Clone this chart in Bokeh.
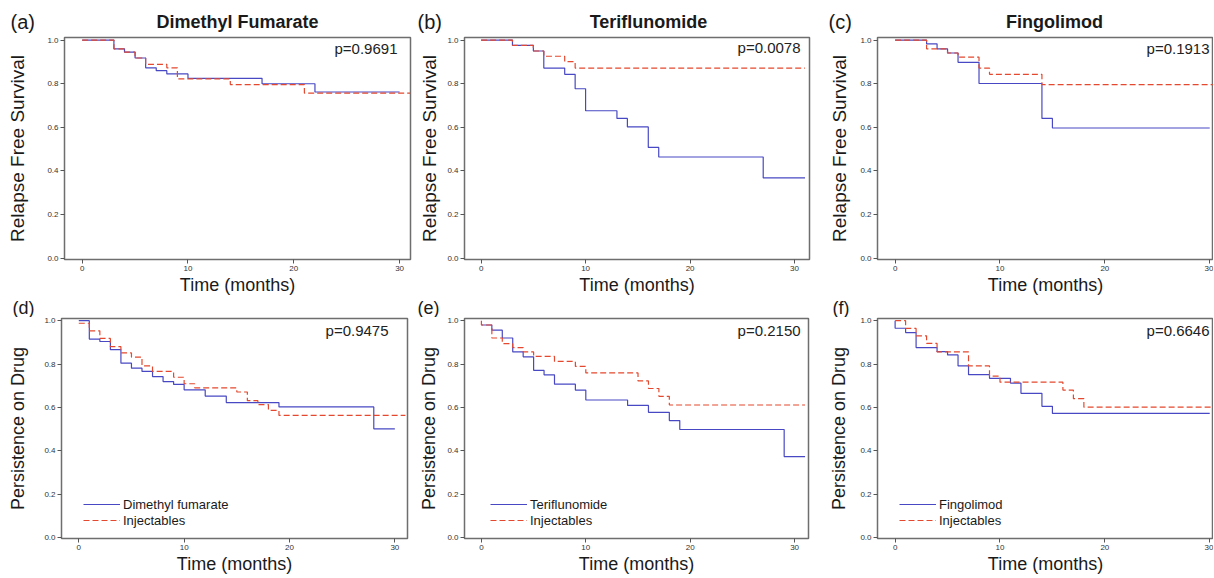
from bokeh.plotting import figure
from bokeh.layouts import column, row
from bokeh.models import Label, Legend, LegendItem, FixedTicker, PrintfTickFormatter, Range1d
from bokeh.core.properties import value
from bokeh.embed import file_html
from bokeh.resources import INLINE

# ---------------- data ----------------
# (a) Relapse free survival, Dimethyl fumarate vs injectables
a_dmf_t = [0, 3, 4, 5, 6, 7, 8, 10, 17, 22, 30]
a_dmf_s = [1.0, 0.96, 0.945, 0.918, 0.873, 0.86, 0.845, 0.825, 0.80, 0.762, 0.762]
a_inj_t = [0, 3, 4, 5, 6, 8, 9, 14, 21, 31]
a_inj_s = [1.0, 0.96, 0.945, 0.918, 0.889, 0.873, 0.822, 0.796, 0.757, 0.757]
# (b) Teriflunomide
b_ter_t = [0, 3, 5, 6, 8, 9, 10, 13, 14, 16, 17, 27, 31]
b_ter_s = [1.0, 0.976, 0.95, 0.872, 0.843, 0.777, 0.676, 0.641, 0.602, 0.508, 0.464, 0.368, 0.368]
b_inj_t = [0, 3, 5, 6, 8, 9, 31]
b_inj_s = [1.0, 0.976, 0.95, 0.926, 0.901, 0.872, 0.872]
# (c) Fingolimod
c_fin_t = [0, 3, 4, 5, 6, 8, 14, 15, 30]
c_fin_s = [1.0, 0.983, 0.96, 0.941, 0.898, 0.801, 0.641, 0.597, 0.597]
c_inj_t = [0, 3, 5, 6, 8, 9, 14, 31]
c_inj_s = [1.0, 0.96, 0.941, 0.922, 0.872, 0.843, 0.796, 0.796]
# (d) Persistence on drug, Dimethyl fumarate
d_dmf_t = [0, 1, 2, 3, 4, 5, 6, 7, 8, 9, 10, 12, 14, 19, 28, 30]
d_dmf_s = [1.0, 0.915, 0.904, 0.866, 0.804, 0.781, 0.766, 0.742, 0.719, 0.706, 0.681, 0.652, 0.622, 0.602, 0.501, 0.501]
d_inj_t = [0, 1, 2, 3, 4, 5, 6, 7, 9, 10, 11, 15, 16, 17, 18, 19, 31]
d_inj_s = [0.988, 0.953, 0.918, 0.880, 0.851, 0.832, 0.791, 0.766, 0.739, 0.709, 0.690, 0.671, 0.631, 0.613, 0.586, 0.563, 0.563]
# (e) Teriflunomide
e_ter_t = [0, 1, 2, 3, 4, 5, 6, 7, 9, 10, 14, 16, 18, 19, 29, 31]
e_ter_s = [0.98, 0.956, 0.920, 0.856, 0.833, 0.771, 0.750, 0.707, 0.680, 0.634, 0.609, 0.577, 0.539, 0.498, 0.373, 0.373]
e_inj_t = [0, 0, 1, 2, 3, 4, 5, 7, 9, 10, 15, 16, 17, 18, 31]
e_inj_s = [1.0, 0.98, 0.920, 0.894, 0.876, 0.856, 0.835, 0.812, 0.789, 0.759, 0.722, 0.687, 0.651, 0.611, 0.611]
# (f) Fingolimod
f_fin_t = [0, 0, 1, 2, 4, 5, 6, 7, 9, 11, 12, 14, 15, 30]
f_fin_s = [1.0, 0.965, 0.945, 0.876, 0.857, 0.842, 0.791, 0.751, 0.734, 0.712, 0.665, 0.605, 0.572, 0.572]
f_inj_t = [0, 1, 2, 3, 4, 7, 9, 10, 16, 17, 18, 31]
f_inj_s = [1.0, 0.964, 0.930, 0.895, 0.856, 0.791, 0.744, 0.716, 0.680, 0.640, 0.601, 0.601]

titles = ["Dimethyl Fumarate", "Teriflunomide", "Fingolimod"]
tags_top = ["(a)", "(b)", "(c)"]
tags_bottom = ["(d)", "(e)", "(f)"]
pvalues = ["p=0.9691", "p=0.0078", "p=0.1913", "p=0.9475", "p=0.2150", "p=0.6646"]
drug_names = ["Dimethyl fumarate", "Teriflunomide", "Fingolimod"]
comparator = "Injectables"
x_ticks = [0, 10, 20, 30]
y_ticks = [0.0, 0.2, 0.4, 0.6, 0.8, 1.0]
y_label_top = "Relapse Free Survival"
y_label_bottom = "Persistence on Drug"
x_label = "Time (months)"

FONT = "Liberation Sans"
BLUE = "#4848c4"
RED = "#e4492f"
TXT = "#1a1a1a"
W = 1213


def header(height, tags, tag_x, tag_y, tag_size, names=None, name_x=None):
    h = figure(width=W, height=height, x_range=Range1d(0, W), y_range=Range1d(0, height),
               output_backend="svg", toolbar_location=None, title=None,
               x_axis_location=None, y_axis_location=None,
               min_border_left=0, min_border_right=0, min_border_top=0, min_border_bottom=0)
    h.outline_line_color = None
    h.grid.visible = False
    h.background_fill_color = "white"
    h.border_fill_color = "white"
    h.text(x=tag_x, y=[tag_y] * len(tags), text=tags, text_font=value(FONT),
           text_font_size=tag_size, text_color=TXT, text_align="left", text_baseline="middle")
    if names is not None:
        h.text(x=name_x, y=[tag_y] * len(names), text=names, text_font=value(FONT),
               text_font_size="18px", text_font_style="bold", text_color=TXT,
               text_align="center", text_baseline="middle")
    return h


def panel(width, height, bl, br, bt, bb, xr, yr, ylab, ylab_size, ylab_standoff,
          t1, s1, t2, s2, pval, pval_x, pval_y, legend=None):
    p = figure(width=width, height=height, x_range=Range1d(*xr), y_range=Range1d(*yr),
               output_backend="svg", toolbar_location=None, title=None,
               min_border_left=bl, min_border_right=br, min_border_top=bt, min_border_bottom=bb)
    p.background_fill_color = "white"
    p.border_fill_color = "white"
    p.outline_line_color = "#6e6e6e"
    p.outline_line_width = 1.5
    p.grid.visible = False

    for ax in (p.xaxis[0], p.yaxis[0]):
        ax.axis_line_color = None
        ax.major_tick_line_color = "#555555"
        ax.major_tick_out = 4
        ax.major_tick_in = 0
        ax.minor_tick_line_color = None
        ax.major_label_text_font = FONT
        ax.major_label_text_font_size = "8px"
        ax.major_label_text_color = "#333333"
        ax.major_label_standoff = 2
        ax.axis_label_text_font = FONT
        ax.axis_label_text_font_style = "normal"
        ax.axis_label_text_color = TXT
    p.xaxis.ticker = FixedTicker(ticks=x_ticks)
    p.yaxis.ticker = FixedTicker(ticks=y_ticks)
    p.yaxis.formatter = PrintfTickFormatter(format="%.1f")
    p.xaxis.axis_label = x_label
    p.xaxis.axis_label_text_font_size = "18px"
    p.xaxis.axis_label_standoff = 1
    p.yaxis.axis_label = ylab
    p.yaxis.axis_label_text_font_size = ylab_size
    p.yaxis.axis_label_standoff = ylab_standoff

    r1 = p.step(t1, s1, mode="after", line_color=BLUE, line_width=1.2)
    r2 = p.step(t2, s2, mode="after", line_color=RED, line_width=1.2, line_dash="6 3")

    p.add_layout(Label(x=pval_x, y=pval_y, text=pval, text_font=FONT, text_font_size="15px",
                       text_color="#222222", text_align="right", text_baseline="middle"))
    if legend is not None:
        name, loc = legend
        lg = Legend(items=[LegendItem(label=name, renderers=[r1]),
                           LegendItem(label=comparator, renderers=[r2])],
                    location=loc, padding=0, margin=0, spacing=0,
                    glyph_width=37, glyph_height=16, label_height=16, label_standoff=3,
                    label_text_font=FONT, label_text_font_size="13px", label_text_color=TXT,
                    border_line_color=None, background_fill_alpha=0)
        p.add_layout(lg)
    return p


YR_TOP = (-0.006, 1.012)
YR_BOT = (-0.005, 1.01)
XR_A = (-1.67, 31.03)
XR_B = (-1.59, 31.43)
XR_C = (-1.68, 30.36)
XR_D = (-1.64, 31.2)
XR_E = (-1.62, 31.33)

HH1, H1, HH2, H2 = 35, 262, 20, 260

h1 = header(HH1, tags_top, [10, 417, 828], 14, "20px", titles, [237, 648, 1054])
pa = panel(416, H1, 64, 6, 2, 37, XR_A, YR_TOP, y_label_top, "19px", 16,
           a_dmf_t, a_dmf_s, a_inj_t, a_inj_s, pvalues[0], 29.8, 0.963)
pb = panel(410, H1, 46, 17, 2, 37, XR_B, YR_TOP, y_label_top, "19px", 4,
           b_ter_t, b_ter_s, b_inj_t, b_inj_s, pvalues[1], 30.57, 0.968)
pc = panel(387, H1, 49, 0, 2, 37, XR_C, YR_TOP, y_label_top, "19px", 7,
           c_fin_t, c_fin_s, c_inj_t, c_inj_s, pvalues[2], 29.98, 0.963)
h2 = header(HH2, tags_bottom, [12, 417, 832], 10, "18px")
pd_ = panel(416, H2, 61, 9, 1, 39, XR_D, YR_BOT, y_label_bottom, "18px", 13,
            d_dmf_t, d_dmf_s, d_inj_t, d_inj_s, pvalues[3], 29.4, 0.953,
            legend=(drug_names[0], (22, 10)))
pe = panel(410, H2, 46, 18, 1, 39, XR_E, YR_BOT, y_label_bottom, "18px", 5,
           e_ter_t, e_ter_s, e_inj_t, e_inj_s, pvalues[4], 30.57, 0.953,
           legend=(drug_names[1], (26, 10)))
pf = panel(387, H2, 49, 0, 1, 39, XR_C, YR_BOT, y_label_bottom, "18px", 8,
           f_fin_t, f_fin_s, f_inj_t, f_inj_s, pvalues[5], 29.98, 0.953,
           legend=(drug_names[2], (22, 10)))

layout = column(h1, row(pa, pb, pc), h2, row(pd_, pe, pf))
open("out.html", "w").write(file_html(layout, INLINE))
